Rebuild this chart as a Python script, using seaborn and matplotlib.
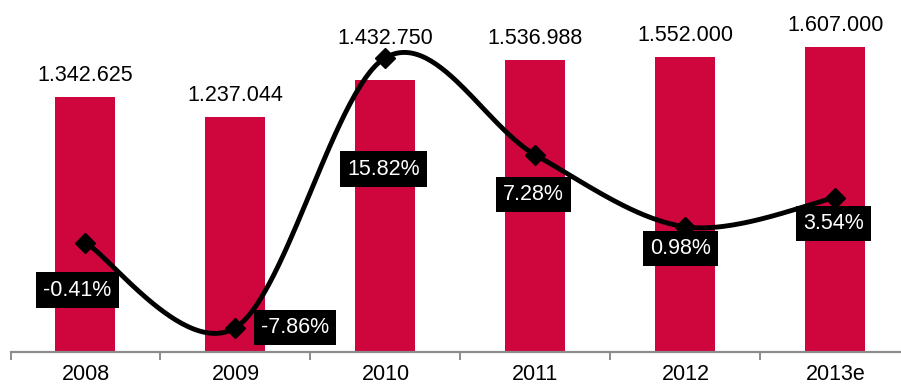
import numpy as np
import pandas as pd
import matplotlib
matplotlib.use("Agg")
import matplotlib.pyplot as plt
import seaborn as sns

# ---- data ----
years = ["2008", "2009", "2010", "2011", "2012", "2013e"]
volumes = [1342625, 1237044, 1432750, 1536988, 1552000, 1607000]
growth = [-0.41, -7.86, 15.82, 7.28, 0.98, 3.54]

# ---- style ----
sns.set_theme(style="white")
plt.rcParams["font.family"] = ["Liberation Sans", "DejaVu Sans"]
BAR = "#CF053D"
GREY = "#8C8C8C"
FS = 15.5

fig = plt.figure(figsize=(9.01, 3.85), dpi=100)
W, H = 901, 385
ax = fig.add_axes([10.5 / W, (H - 352) / H, 900 / W, (352 - 10) / H])

df = pd.DataFrame({"year": years, "volume": volumes, "growth": growth})
sns.barplot(data=df, x="year", y="volume", color=BAR, width=0.4,
            saturation=1, ax=ax, edgecolor="none")
ax.set_xlim(-0.5, len(years) - 0.5)
ax.set_ylim(0, 1800000)
ax.set_xlabel("")
ax.set_ylabel("")
ax.set_yticks([])
for s in ["left", "right", "top"]:
    ax.spines[s].set_visible(False)
ax.spines["bottom"].set_color(GREY)
ax.spines["bottom"].set_linewidth(1.6)
ax.tick_params(axis="x", which="major", length=0, labelsize=FS, pad=8.5,
               labelcolor="black")
ax.set_xticks(np.arange(-0.5, len(years)), minor=True)
ax.tick_params(axis="x", which="minor", length=6, width=1.4, color=GREY,
               direction="out", bottom=True)

# value labels above bars (pixel gaps)
label_gap = [16, 16, 36, 16, 16, 16]
for i, v in enumerate(volumes):
    ax.annotate(f"{v:,}".replace(",", "."), (i, v), xytext=(0, label_gap[i]),
                textcoords="offset pixels", ha="center", va="baseline",
                fontsize=FS, color="black")

# secondary axis: growth line, smoothed (Bezier, Excel-like)
ax2 = ax.twinx()
ax2.set_ylim(-10, 20)
ax2.set_yticks([])
for s in ["left", "right", "top", "bottom"]:
    ax2.spines[s].set_visible(False)

xs = np.arange(len(years), dtype=float)
ys = np.array(growth, dtype=float)
P = np.column_stack([xs, ys])
n = len(P)
curve = []
t = np.linspace(0, 1, 60)[:, None]
for i in range(n - 1):
    p0 = P[i - 1] if i > 0 else P[i]
    p3 = P[i + 2] if i + 2 < n else P[i + 1]
    c1 = P[i] + (P[i + 1] - p0) / 6
    c2 = P[i + 1] - (p3 - P[i]) / 6
    seg = ((1 - t) ** 3) * P[i] + 3 * ((1 - t) ** 2) * t * c1 + \
        3 * (1 - t) * t ** 2 * c2 + t ** 3 * P[i + 1]
    curve.append(seg)
curve = np.vstack(curve)
ax2.plot(curve[:, 0], curve[:, 1], color="black", lw=3.5,
         solid_capstyle="round", zorder=3)
ax2.plot(xs, ys, linestyle="none", marker="D", markersize=10,
         color="black", zorder=4)

# growth labels: pixel offsets from points
offsets = [(-8, -47.5), (59.5, 0), (-2, -111.5), (-2, -39.5), (-5, -21.5), (-2, -26)]
for i, g in enumerate(growth):
    ax2.annotate(f"{g:.2f}%", (i, g), xytext=offsets[i],
                 textcoords="offset pixels", ha="center", va="center",
                 fontsize=FS, color="white", zorder=5,
                 bbox=dict(boxstyle="square,pad=0.34", fc="black", ec="none"))

fig.savefig("out.png", dpi=100)
